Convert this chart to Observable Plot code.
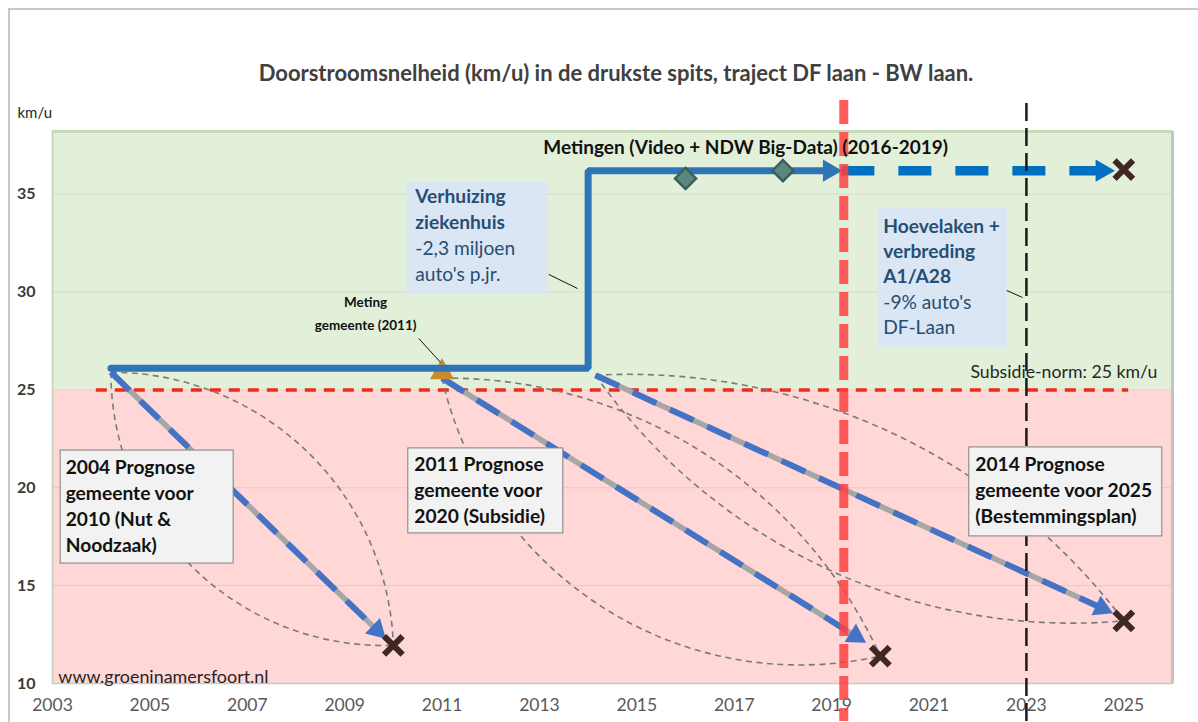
<!DOCTYPE html>
<html><head><meta charset="utf-8">
<script src="https://cdn.jsdelivr.net/npm/d3@7"></script>
<script src="https://cdn.jsdelivr.net/npm/@observablehq/plot@0.6"></script>
<style>
body{margin:0;background:#fff;font-family:Lato,sans-serif}
#wrap{position:relative;width:1198px;height:722px;overflow:hidden;background:#fff}
#frame{position:absolute;left:8px;top:8px;width:1200px;height:720px;border-left:2px solid #c8c8c8;border-top:2px solid #c8c8c8}
#title{position:absolute;left:17px;width:1198px;top:59px;text-align:center;font-family:Lato,sans-serif;font-weight:bold;font-size:22px;color:#404040;white-space:nowrap}
#chart{position:absolute;left:0;top:95px}
#chart svg{overflow:visible}
g[aria-label="y-axis tick label"] text{font-weight:bold}
</style></head><body>
<div id="wrap"><div id="frame"></div>
<div id="title">Doorstroomsnelheid (km/u) in de drukste spits, traject DF laan - BW laan.</div>
<div id="chart"></div></div>
<script>
// ---------- data ----------
const xTicks = [2003, 2005, 2007, 2009, 2011, 2013, 2015, 2017, 2019, 2021, 2023, 2025];
const yTicks = [10, 15, 20, 25, 30, 35];
const xDomain = [2003, 2026];
const yDomain = [10, 38.2];

const normSpeed = 25;                 // subsidie-norm km/u
const normYears = [2003.9, 2025.1];   // extent of the norm line
const eventYears = [2019.25, 2023];   // now-line, Hoevelaken

const measYear = [2004.2, 2014.0, 2019.2];   // measured speed (step)
const measSpeed = [26.1, 36.2, 36.2];
const trendYear = [2019.2, 2024.8];          // extrapolation
const trendSpeed = [36.2, 36.2];
const trendTargetYear = [2025];
const trendTargetSpeed = [36.25];
const videoYear = [2016, 2018];              // Video + NDW measurements
const videoSpeed = [35.8, 36.2];
const cityMeasYear = [2011];                 // meting gemeente 2011
const cityMeasSpeed = [25.9];

const progLabel = ["2004", "2011", "2014"];
const progStartYear = [2004.2, 2011.0, 2014.15];
const progStartSpeed = [25.9, 25.6, 25.75];
const progTipYear = [2009.84, 2019.7, 2024.77];
const progTipSpeed = [12.3, 12.1, 13.6];
const progTargetYear = [2010, 2020, 2025];
const progTargetSpeed = [11.95, 11.4, 13.2];

const leaders = [
  {x1: 2013.19, y1: 30.9, x2: 2013.78, y2: 30.18},
  {x1: 2022.22, y1: 30.49, x2: 2022.92, y2: 29.72},
  {x1: 2010.52, y1: 27.63, x2: 2010.97, y2: 26.4}
];

const notes = [
  {id: "p2004", x: 2003.27, y: 21.67, bold: "2004 Prognose\ngemeente voor\n2010 (Nut &\nNoodzaak)", regular: ""},
  {id: "p2011", x: 2010.43, y: 21.78, bold: "2011 Prognose\ngemeente voor\n2020 (Subsidie)", regular: ""},
  {id: "p2014", x: 2021.95, y: 21.78, bold: "2014 Prognose\ngemeente voor 2025\n(Bestemmingsplan)", regular: ""},
  {id: "zkh", x: 2010.45, y: 35.47, bold: "Verhuizing\nziekenhuis", regular: "-2,3 miljoen\nauto's p.jr."},
  {id: "hvl", x: 2020.06, y: 33.94, bold: "Hoevelaken +\nverbreding\nA1/A28", regular: "-9% auto's\nDF-Laan"}
];
const labels = [
  {x: 2013.08, y: 37.38, text: "Metingen (Video + NDW Big-Data) (2016-2019)"},
  {x: 2009.43, y: 29.0, text: "Meting\ngemeente (2011)"}
];
const normLabel = {x: 2021.85, y: 25.89, text: "Subsidie-norm: 25 km/u"};
const siteLabel = {x: 2003.12, y: 10.31, text: "www.groeninamersfoort.nl"};

// ---------- layout ----------
const W = 1198, H = 627, ML = 52, MR = 26, MT = 36, MB = 39;
const FS = 19.2;
const sx = Plot.scale({x: {domain: xDomain, range: [ML, W - MR]}});
const sy = Plot.scale({y: {domain: yDomain, range: [H - MB, MT]}});

function head(x1, y1, x2, y2, back) {
  const a = sx.apply(x1), b = sy.apply(y1), c = sx.apply(x2), d = sy.apply(y2);
  const dx = c - a, dy = d - b, len = Math.hypot(dx, dy);
  return {x: sx.invert(c - dx / len * back), y: sy.invert(d - dy / len * back),
          rotate: Math.atan2(dx, -dy) * 180 / Math.PI};
}

const measHead = head(measYear[1], measSpeed[1], measYear[2], measSpeed[2], 12);
const measLine = measYear.map((x, i) => ({x, y: measSpeed[i]}));
measLine[measLine.length - 1] = {x: measHead.x, y: measHead.y};
const trendHead = head(trendYear[0], trendSpeed[0], trendYear[1], trendSpeed[1], 12);

const progIdx = progLabel.map((_, i) => i);
const progHeads = progIdx.map(i => head(progStartYear[i], progStartSpeed[i], progTipYear[i], progTipSpeed[i], 12));

const zones = [
  {from: yDomain[0], to: normSpeed, fill: "#ffd7d7"},
  {from: normSpeed, to: yDomain[1], fill: "#e2f0d9"}
];

const boxStyle = {
  p2004: {fill: "#f2f2f2", stroke: "#7f7f7f", l: 5, t: 4.5, w: 173, h: 113, color: "#111"},
  p2011: {fill: "#f2f2f2", stroke: "#7f7f7f", l: 6, t: 4.5, w: 155, h: 85, color: "#111"},
  p2014: {fill: "#f2f2f2", stroke: "#7f7f7f", l: 6, t: 5.5, w: 193, h: 89, color: "#111"},
  zkh: {fill: "#dae6f4", stroke: "none", l: 8, t: 2.5, w: 141, h: 112, color: "#274e73", lh: 26},
  hvl: {fill: "#dae6f4", stroke: "none", l: 5, t: 6.5, w: 129, h: 139, color: "#274e73", lh: 25.3}
};
const boxes = notes.map(n => {
  const s = boxStyle[n.id], px = sx.apply(n.x) - s.l, py = sy.apply(n.y) - s.t;
  return {id: n.id, x1: sx.invert(px), x2: sx.invert(px + s.w), y1: sy.invert(py), y2: sy.invert(py + s.h)};
});

const arcBends = [[44, -46], [33, -45], [28, -30]];

const marks = [];
for (const z of zones) {
  marks.push(Plot.rect([z], {x1: () => xDomain[0], x2: () => xDomain[1], y1: "from", y2: "to", fill: z.fill}));
}
marks.push(Plot.ruleY(yTicks.slice(1), {stroke: "#000", strokeOpacity: 0.08}));
marks.push(Plot.frame({stroke: "#c3cfb8", strokeWidth: 1.5}));
marks.push(Plot.ruleY([yDomain[1]], {stroke: "#c6dbb6", strokeWidth: 3}));
marks.push(Plot.ruleX([xDomain[1]], {stroke: "#c4c4c4", strokeWidth: 3}));
// axes
marks.push(Plot.axisY({ticks: yTicks, tickSize: 0, tickPadding: 17, label: null, fontSize: 16, fontWeight: "bold", fill: "#3a3a3a"}));
marks.push(Plot.axisX({ticks: xTicks, tickSize: 0, tickPadding: 15, label: null, tickFormat: d => String(d), fontSize: 17.5, fill: "#595959"}));
marks.push(Plot.text(["km/u"], {frameAnchor: "top-left", dx: -35, dy: -18, textAnchor: "start", lineAnchor: "middle", fontSize: 15, fill: "#262626"}));
// norm line
marks.push(Plot.ruleY([normSpeed], {x1: normYears[0], x2: normYears[1], stroke: "#ee2a1b", strokeWidth: 3.5, strokeDasharray: "11,8"}));
// lens arcs around each prognosis
progIdx.forEach(i => {
  for (const bend of arcBends[i]) {
    marks.push(Plot.arrow([i], {
      x1: j => progStartYear[j], y1: j => progStartSpeed[j], x2: j => progTargetYear[j], y2: j => progTargetSpeed[j],
      bend, headLength: 0, stroke: "#7a7a7a", strokeWidth: 1.6, strokeDasharray: "6,4.5", strokeLinecap: "butt"
    }));
  }
});
// prognosis arrows
marks.push(Plot.link(progIdx, {x1: i => progStartYear[i], y1: i => progStartSpeed[i], x2: i => progHeads[i].x, y2: i => progHeads[i].y,
  stroke: "#a6a6a6", strokeWidth: 5.5}));
marks.push(Plot.link(progIdx, {x1: i => progStartYear[i], y1: i => progStartSpeed[i], x2: i => progHeads[i].x, y2: i => progHeads[i].y,
  stroke: "#4472c4", strokeWidth: 6, strokeDasharray: "26,15"}));
marks.push(Plot.dot(progIdx, {x: i => progHeads[i].x, y: i => progHeads[i].y, rotate: i => progHeads[i].rotate,
  symbol: "triangle", r: 8, fill: "#4472c4", stroke: "none"}));
marks.push(Plot.dot(progIdx, {x: i => progTargetYear[i], y: i => progTargetSpeed[i], symbol: "times", r: 8.5, stroke: "#3f2724", strokeWidth: 6}));
// gemeente meting triangle
marks.push(Plot.dot(cityMeasYear, {x: d => d, y: (d, i) => cityMeasSpeed[i], symbol: "triangle", r: 9, fill: "#c98a2c", stroke: "none"}));
// measured step line
marks.push(Plot.line(measLine, {x: "x", y: "y", curve: "step-after", stroke: "#2e75b6", strokeWidth: 7, strokeLinejoin: "miter"}));
marks.push(Plot.dot([measHead], {x: "x", y: "y", rotate: "rotate", symbol: "triangle", r: 8.3, fill: "#2e75b6", stroke: "none"}));
// extrapolation
marks.push(Plot.link([0], {x1: trendYear[0], y1: trendSpeed[0], x2: trendHead.x, y2: trendHead.y,
  stroke: "#0070c0", strokeWidth: 9.5, strokeDasharray: "33,24"}));
marks.push(Plot.dot([trendHead], {x: "x", y: "y", rotate: "rotate", symbol: "triangle", r: 8.3, fill: "#0070c0", stroke: "none"}));
marks.push(Plot.dot(trendTargetYear, {x: d => d, y: (d, i) => trendTargetSpeed[i], symbol: "times", r: 8.5, stroke: "#3f2724", strokeWidth: 6}));
// video measurements
marks.push(Plot.dot(videoYear, {x: d => d, y: (d, i) => videoSpeed[i], symbol: "diamond2", r: 9.5, fill: "#5a8880", stroke: "#3d5f58", strokeWidth: 2.5}));
// event lines
marks.push(Plot.ruleX([eventYears[0]], {stroke: "#ff4040", strokeOpacity: 0.85, strokeWidth: 9, strokeDasharray: "24,8", insetTop: -31, insetBottom: -38}));
marks.push(Plot.ruleX([eventYears[1]], {stroke: "#1a1a1a", strokeWidth: 2.5, strokeDasharray: "18,7", insetTop: -28, insetBottom: -38}));
// leader lines
marks.push(Plot.link(leaders, {x1: "x1", y1: "y1", x2: "x2", y2: "y2", stroke: "#111", strokeWidth: 1}));
// labels
marks.push(Plot.text([labels[0]], {x: "x", y: "y", text: "text", textAnchor: "start", lineAnchor: "middle", fontSize: 19, fontWeight: "bold", fill: "#111"}));
marks.push(Plot.text([labels[1]], {x: "x", y: "y", text: "text", textAnchor: "middle", lineAnchor: "middle", lineHeight: 23 / 13.5, fontSize: 13.5, fontWeight: "bold", fill: "#111"}));
marks.push(Plot.text([normLabel], {x: "x", y: "y", text: "text", textAnchor: "start", lineAnchor: "middle", fontSize: 17.7, fill: "#262626"}));
marks.push(Plot.text([siteLabel], {x: "x", y: "y", text: "text", textAnchor: "start", lineAnchor: "middle", fontSize: 17.9, fill: "#262626"}));
// boxes + their text
notes.forEach((n, i) => {
  const s = boxStyle[n.id], lh = (s.lh || 26);
  marks.push(Plot.rect([boxes[i]], {x1: "x1", x2: "x2", y1: "y1", y2: "y2", fill: s.fill, stroke: s.stroke, strokeWidth: 1}));
  marks.push(Plot.text([n], {x: "x", y: "y", text: "bold", textAnchor: "start", lineAnchor: "top", fontSize: FS, lineHeight: lh / FS, fontWeight: "bold", fill: s.color}));
  if (n.regular) {
    const nb = n.bold.split("\n").length;
    marks.push(Plot.text([n], {x: "x", y: "y", text: "regular", textAnchor: "start", lineAnchor: "top", fontSize: FS, lineHeight: lh / FS, dy: nb * lh, fill: s.color}));
  }
});

const chart = Plot.plot({
  width: W, height: H, marginLeft: ML, marginRight: MR, marginTop: MT, marginBottom: MB,
  x: {domain: xDomain}, y: {domain: yDomain},
  style: {fontFamily: "Lato, sans-serif", fontSize: "15px", background: "transparent", overflow: "visible"},
  marks
});
document.getElementById("chart").append(chart);
</script>
</body></html>
